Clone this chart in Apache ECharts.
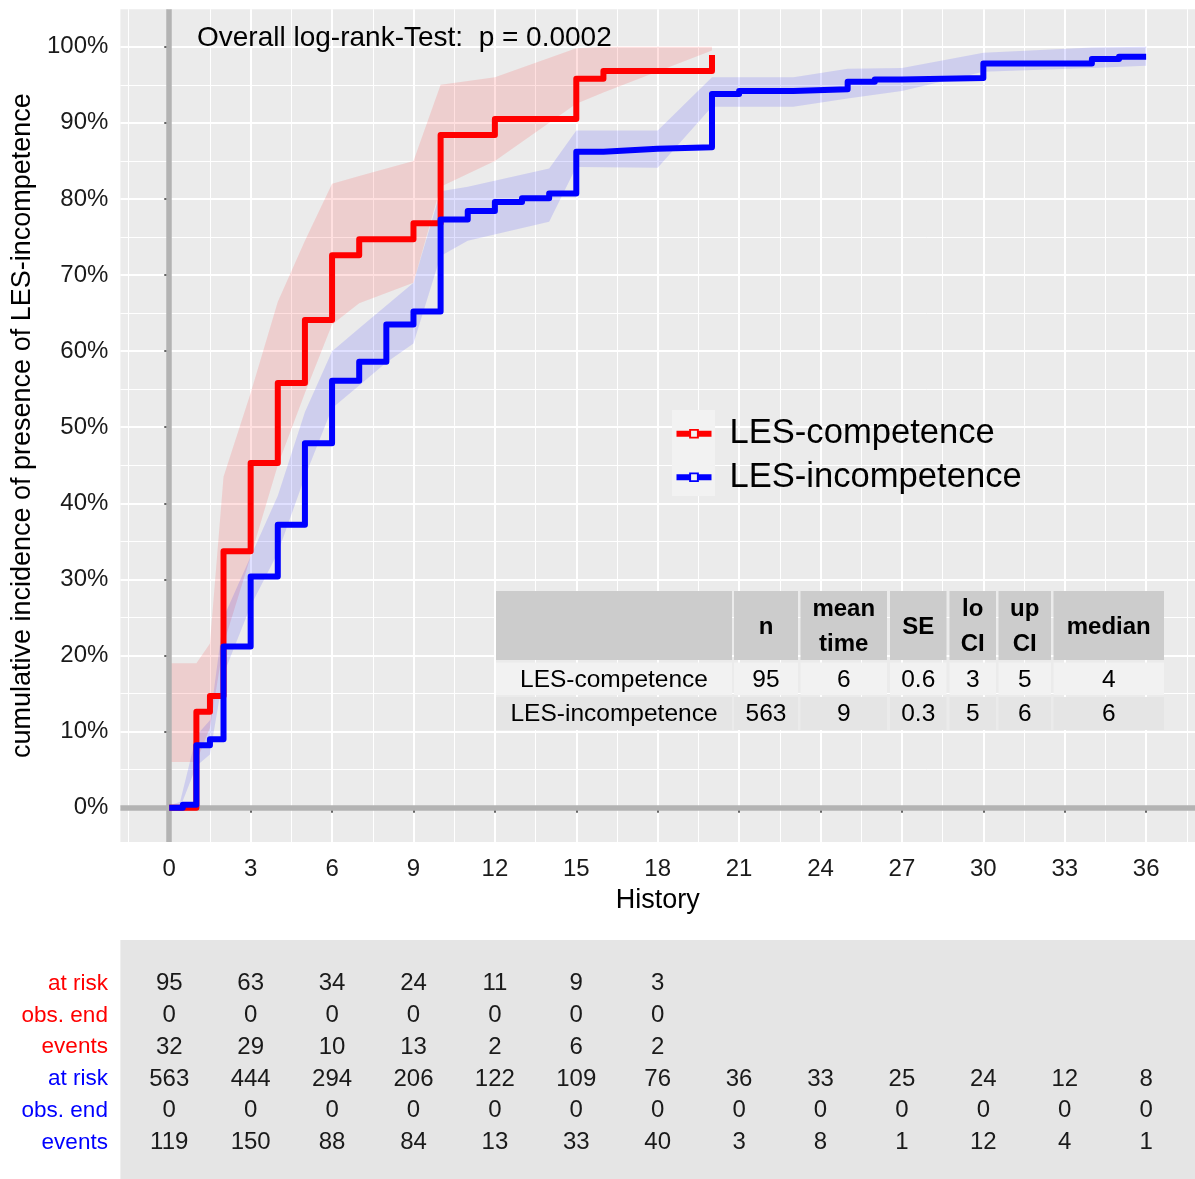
<!DOCTYPE html>
<html><head><meta charset="utf-8">
<script src="https://cdn.jsdelivr.net/npm/echarts@6/dist/echarts.min.js"></script>
<style>html,body{margin:0;padding:0;background:#fff}#c{width:1195px;height:1179px}</style>
</head><body><div id="c"></div>
<script>
// ---------- data ----------
const xMajorTicks = [0,3,6,9,12,15,18,21,24,27,30,33,36];
const xMinorTicks = [-1.5,1.5,4.5,7.5,10.5,13.5,16.5,19.5,22.5,25.5,28.5,31.5,34.5,37.5];
const yMajorTicks = [0,10,20,30,40,50,60,70,80,90,100];
const yMinorTicks = [5,15,25,35,45,55,65,75,85,95];

const groupNames = ['LES-competence','LES-incompetence'];

const compTime = [0,1,1.5,2,3,4,5,6,7,9,10,12,15,16,20];
const compPct  = [0,12.6,14.7,33.7,45.3,55.8,64.1,72.6,74.7,76.8,88.4,90.5,95.8,96.8,98.9];

const incTime = [0,0.5,1,1.5,2,3,4,5,6,7,8,9,10,11,12,13,14,15,16,17,18,20,21,23,25,26,27,30,34,35,36];
const incPct  = [0,0.4,8.2,9.0,21.2,30.4,37.2,47.9,56.1,58.6,63.5,65.2,77.3,78.4,79.6,80.1,80.7,86.2,86.4,86.6,86.8,93.8,94.2,94.4,95.4,95.7,95.9,97.8,98.4,98.7,98.7];

const compBandTime = [0,1,1.5,2,3,4,5,6,7,9,10,12,15,16,20];
const compBandLo   = [6,6,10.5,21.5,33,45,54.5,63.5,66.3,69,81.6,85,92.5,94,99.5];
const compBandHi   = [19,19,21.6,43.5,54.5,66.5,74.5,82,83,85,95,96,99.8,100,100];

const incBandTime = [0,0.4,1,1.5,2,3,4,5,6,7,8,9,10,11,14,15,18,20,23,25,27,30,34,36];
const incBandLo   = [0,0,5.5,7,17.5,26.5,33.5,43.5,52.5,55.5,58.5,61,72.5,74.5,77,84.2,84.1,92.1,92.1,93.2,94.2,96.7,97.2,97.5];
const incBandHi   = [0.3,0.8,9.5,11.5,25,33,41,52,60,63,66,69,81,81.6,84,89,89,96,96,97.1,97.2,99.2,99.9,100];

const pValueText = 'Overall log-rank-Test:  p = 0.0002';

const summaryHeader = ['', 'n', 'mean\ntime', 'SE', 'lo\nCI', 'up\nCI', 'median'];
const summaryComp = ['LES-competence', '95', '6', '0.6', '3', '5', '4'];
const summaryInc  = ['LES-incompetence', '563', '9', '0.3', '5', '6', '6'];

const riskTimes = [0,3,6,9,12,15,18,21,24,27,30,33,36];
const riskRowNames = ['at risk','obs. end','events','at risk','obs. end','events'];
const compAtRisk = [95,63,34,24,11,9,3];
const compObsEnd = [0,0,0,0,0,0,0];
const compEvents = [32,29,10,13,2,6,2];
const incAtRisk  = [563,444,294,206,122,109,76,36,33,25,24,12,8];
const incObsEnd  = [0,0,0,0,0,0,0,0,0,0,0,0,0];
const incEvents  = [119,150,88,84,13,33,40,3,8,1,12,4,1];

// ---------- styling / layout ----------
const FONT = 'Liberation Sans, Arial, Helvetica, sans-serif';
const RED = '#FF0000', BLUE = '#0000FF';
const riskRowColors = [RED,RED,RED,BLUE,BLUE,BLUE];

const G = {left:120.4, top:9.3, width:1076.6, height:832.7};
const RG = {left:120.4, top:940, width:1076.6, height:239};

function zip2(a,b){return a.map((v,i)=>[v,b[i]]);}

function bandSeries(name, T, LO, HI, fill){
  return {
    type:'custom', name:name, xAxisIndex:0, yAxisIndex:0, z:2, silent:true,
    data: T.map((t,i)=>[t,LO[i],HI[i]]),
    encode:{x:0,y:[1,2]},
    renderItem:function(params, api){
      if(params.dataIndex!==0) return null;
      const pts=[];
      for(let i=0;i<T.length;i++) pts.push(api.coord([T[i],HI[i]]));
      for(let i=T.length-1;i>=0;i--) pts.push(api.coord([T[i],LO[i]]));
      return {type:'polygon', shape:{points:pts}, style:{fill:fill}};
    }
  };
}

// risk table cells
const riskRowsData = [compAtRisk, compObsEnd, compEvents, incAtRisk, incObsEnd, incEvents];
const riskCells = [];
riskRowsData.forEach((row, r)=>{ row.forEach((v,j)=>{ riskCells.push([riskTimes[j], r, v]); }); });

// summary table graphics
const colEdges = [[496,732],[734,798],[800.5,887],[890,946.5],[949.5,996],[998.5,1051],[1053.5,1164]];
const rowEdges = [[591,660],[662.5,695],[697,730]];
const rowFills = ['#CCCCCC','#F2F2F2','#E5E5E5'];
const tableRows = [summaryHeader, summaryComp, summaryInc];
const tableChildren = [];
tableRows.forEach((row, r)=>{
  row.forEach((txt, c)=>{
    const x0=colEdges[c][0], x1=colEdges[c][1], y0=rowEdges[r][0], y1=rowEdges[r][1];
    tableChildren.push({type:'rect', z:50, shape:{x:x0,y:y0,width:x1-x0,height:y1-y0}, style:{fill:rowFills[r]}});
    if(txt!==''){
      tableChildren.push({type:'text', z:51, x:(x0+x1)/2, y:(y0+y1)/2 + (r===0?1.5:1),
        style:{text:txt, align:'center', verticalAlign:'middle', fontFamily:FONT,
          fontSize: r===0?24:24.5, fontWeight: r===0?'bold':'normal', lineHeight: 35, fill:'#000'}});
    }
  });
});

const chart = echarts.init(document.getElementById('c'), null, {renderer:'canvas'});
const axisLabelColor = '#1a1a1a';

const option = {
  backgroundColor:'#FFFFFF',
  animation:false,
  textStyle:{fontFamily:FONT},
  title:{text:pValueText, left:197, top:22.5, padding:0,
    textStyle:{fontSize:28, fontWeight:'normal', color:'#000', fontFamily:FONT, lineHeight:32}},
  grid:[
    Object.assign({show:true, backgroundColor:'#EBEBEB', borderWidth:0, containLabel:false}, G),
    Object.assign({show:true, backgroundColor:'#E5E5E5', borderWidth:0, containLabel:false}, RG)
  ],
  legend:{
    data:groupNames.map((n)=>({name:n,
      icon:'path://M0,2H13V0H23V2H36V8H23V10H13V8H0Z M15,2V8H21V2Z'})),
    orient:'vertical', left:676.5, top:412, padding:0, itemGap:0,
    itemWidth:35, itemHeight:10, selectedMode:false, z:20,
    textStyle:{fontSize:34.6, color:'#000', fontFamily:FONT, lineHeight:43.5, padding:[0,0,0,13]}
  },
  xAxis:[
    {type:'value', gridIndex:0, min:-1.8, max:37.8,
      name:'History', nameLocation:'middle', nameGap:45,
      nameTextStyle:{fontSize:27, color:'#000', fontFamily:FONT},
      axisLine:{show:false},
      axisTick:{show:true, length:5, customValues:xMajorTicks, lineStyle:{color:'#333', width:1.5}},
      axisLabel:{show:true, customValues:xMajorTicks, fontSize:24, color:axisLabelColor, margin:15, fontFamily:FONT},
      splitLine:{show:true, lineStyle:{color:'#FFFFFF', width:2}}
    },
    {type:'value', gridIndex:0, min:-1.8, max:37.8, position:'bottom',
      axisLine:{show:false}, axisLabel:{show:false},
      axisTick:{show:false, customValues:xMinorTicks},
      splitLine:{show:true, lineStyle:{color:'#FFFFFF', width:1}}
    },
    {type:'value', gridIndex:1, min:-1.8, max:37.8,
      axisLine:{show:false}, axisLabel:{show:false}, axisTick:{show:false}, splitLine:{show:false}}
  ],
  yAxis:[
    {type:'value', gridIndex:0, min:-4.5, max:104.92,
      name:'cumulative incidence of presence of LES-incompetence', nameLocation:'middle', nameRotate:90, nameGap:77,
      nameTextStyle:{fontSize:27, color:'#000', fontFamily:FONT},
      axisLine:{show:false},
      axisTick:{show:true, length:5, customValues:yMajorTicks, lineStyle:{color:'#333', width:1.5}},
      axisLabel:{show:true, customValues:yMajorTicks, formatter:v=>v+'%', fontSize:24, color:axisLabelColor, margin:12, fontFamily:FONT},
      splitLine:{show:true, lineStyle:{color:'#FFFFFF', width:2}}
    },
    {type:'value', gridIndex:0, min:-4.5, max:104.92, position:'left',
      axisLine:{show:false}, axisLabel:{show:false},
      axisTick:{show:false, customValues:yMinorTicks},
      splitLine:{show:true, lineStyle:{color:'#FFFFFF', width:1}}
    },
    {type:'value', gridIndex:1, min:-1.37, max:6.146, inverse:true,
      axisLine:{show:false}, axisTick:{show:false}, splitLine:{show:false},
      axisLabel:{show:true, customValues:[0,1,2,3,4,5], margin:12.5, fontSize:22.5, fontFamily:FONT,
        formatter:v=>riskRowNames[v], color:(v)=>riskRowColors[v]}
    }
  ],
  graphic:[
    {type:'rect', z:15, shape:{x:672,y:410,width:43,height:86}, style:{fill:'#F2F2F2'}},
    {type:'group', z:50, children:tableChildren}
  ],
  series:[
    bandSeries('band-comp', compBandTime, compBandLo, compBandHi, 'rgba(255,0,0,0.12)'),
    bandSeries('band-inc', incBandTime, incBandLo, incBandHi, 'rgba(0,0,255,0.12)'),
    {type:'line', name:groupNames[0], xAxisIndex:0, yAxisIndex:0, data:zip2(compTime,compPct),
      step:'end', showSymbol:false, z:6, silent:true, color:RED,
      lineStyle:{color:RED, width:6, join:'round', cap:'butt'},
      markLine:{silent:true, symbol:'none', z:4, label:{show:false},
        lineStyle:{color:'#B3B3B3', width:5.5, type:'solid'},
        data:[{xAxis:0},{yAxis:0}]}
    },
    {type:'line', name:groupNames[1], xAxisIndex:0, yAxisIndex:0, data:zip2(incTime,incPct),
      step:'end', showSymbol:false, z:7, silent:true, color:BLUE,
      lineStyle:{color:BLUE, width:6, join:'round', cap:'butt'}},
    {type:'custom', name:'risk', xAxisIndex:2, yAxisIndex:2, silent:true, z:5,
      data:riskCells, encode:{x:0,y:1},
      renderItem:function(params, api){
        const p = api.coord([api.value(0), api.value(1)]);
        return {type:'text', x:p[0], y:p[1],
          style:{text:String(api.value(2)), align:'center', verticalAlign:'middle',
            fontSize:24, fontFamily:FONT, fill:'#1a1a1a'}};
      }
    }
  ]
};
chart.setOption(option);
</script>
</body></html>
